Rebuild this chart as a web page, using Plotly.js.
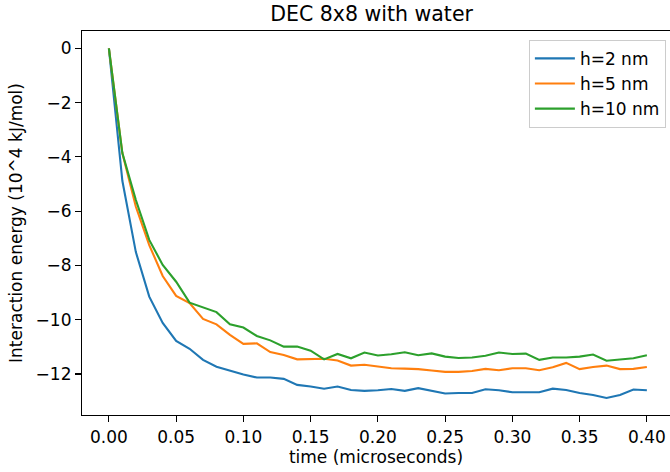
<!DOCTYPE html>
<html>
<head>
<meta charset="utf-8">
<script src="https://cdn.plot.ly/plotly-3.0.1.min.js"></script>
<style>html,body{margin:0;padding:0;background:#fff;}#chart{width:670px;height:472px;}</style>
</head>
<body>
<div id="chart"></div>
<script>
const time = [0.00,0.01,0.02,0.03,0.04,0.05,0.06,0.07,0.08,0.09,0.10,0.11,0.12,0.13,0.14,0.15,0.16,0.17,0.18,0.19,0.20,0.21,0.22,0.23,0.24,0.25,0.26,0.27,0.28,0.29,0.30,0.31,0.32,0.33,0.34,0.35,0.36,0.37,0.38,0.39,0.40];
const h2 = [0,-4.88,-7.5,-9.15,-10.12,-10.78,-11.07,-11.48,-11.73,-11.87,-12.02,-12.13,-12.13,-12.18,-12.40,-12.46,-12.54,-12.46,-12.59,-12.62,-12.60,-12.55,-12.62,-12.52,-12.62,-12.72,-12.70,-12.70,-12.56,-12.60,-12.67,-12.67,-12.67,-12.54,-12.59,-12.70,-12.77,-12.88,-12.77,-12.57,-12.60];
const h5 = [0,-3.86,-5.83,-7.25,-8.39,-9.12,-9.39,-9.97,-10.17,-10.56,-10.89,-10.87,-11.19,-11.30,-11.46,-11.46,-11.44,-11.50,-11.69,-11.66,-11.73,-11.79,-11.80,-11.82,-11.87,-11.92,-11.92,-11.89,-11.81,-11.86,-11.79,-11.79,-11.86,-11.75,-11.59,-11.82,-11.74,-11.69,-11.82,-11.81,-11.74];
const h10 = [0,-3.86,-5.58,-7.06,-7.98,-8.60,-9.37,-9.54,-9.72,-10.17,-10.29,-10.60,-10.76,-10.99,-10.99,-11.14,-11.46,-11.26,-11.42,-11.21,-11.32,-11.27,-11.20,-11.31,-11.24,-11.36,-11.41,-11.39,-11.33,-11.21,-11.26,-11.25,-11.48,-11.39,-11.39,-11.36,-11.28,-11.51,-11.46,-11.42,-11.31];
const names = ['h=2 nm','h=5 nm','h=10 nm'];
const colors = ['#1f77b4','#ff7f0e','#2ca02c'];
const series = [h2,h5,h10];

const fs = 17;
const font = {family:'DejaVu Sans', size:fs, color:'#000'};
const traces = series.map((s,i)=>({
  x: time, y: s, type:'scatter', mode:'lines', name: names[i],
  line:{color:colors[i], width:2.1}
}));

const layout = {
  width:670, height:472,
  margin:{l:82, r:0, t:31, b:57, pad:0},
  paper_bgcolor:'#fff', plot_bgcolor:'#fff',
  font: font,
  title:{text:'DEC 8x8 with water', font:{family:'DejaVu Sans', size:20.5, color:'#000'}, x:0.4925, xanchor:'center', y:0.97, yanchor:'middle', xref:'paper'},
  xaxis:{
    range:[-0.02,0.4172], tick0:0, dtick:0.05, tickformat:'.2f',
    showgrid:false, zeroline:false, showline:true, mirror:true, linecolor:'#000', linewidth:1.1,
    ticks:'outside', ticklen:6, tickwidth:1.1, tickcolor:'#000',
    tickfont:font,
    title:{text:'time (microseconds)', font:font, standoff:5}
  },
  yaxis:{
    range:[-13.51,0.637], tick0:0, dtick:2,
    showgrid:false, zeroline:false, showline:true, mirror:false, linecolor:'#000', linewidth:1.1,
    ticks:'outside', ticklen:6, tickwidth:1.1, tickcolor:'#000',
    tickfont:font,
    title:{text:'Interaction energy (10^4 kJ/mol)', font:font, standoff:8}
  },
  legend:{
    x:0.993, xanchor:'right', y:0.977, yanchor:'top',
    bgcolor:'rgba(255,255,255,0.8)', bordercolor:'#cccccc', borderwidth:1,
    font:font,
    tracegroupgap:0, itemwidth:40
  },
  showlegend:true
};
Plotly.newPlot('chart', traces, layout, {displayModeBar:false, staticPlot:true});
</script>
</body>
</html>
